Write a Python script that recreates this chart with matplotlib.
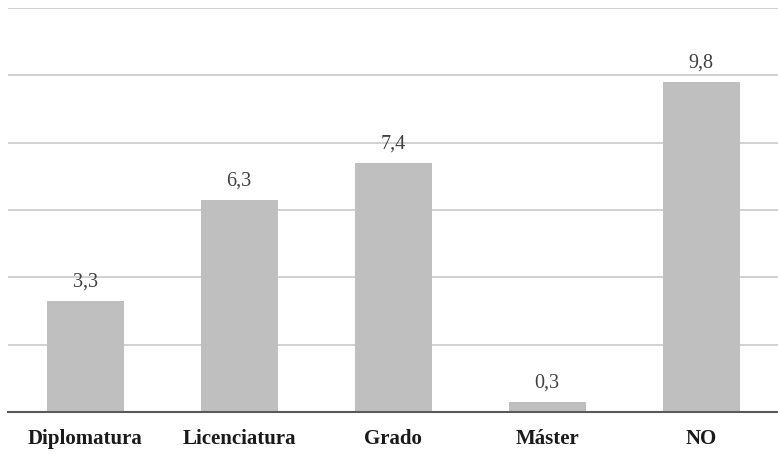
import matplotlib
matplotlib.use("Agg")
import matplotlib.pyplot as plt

categories = ["Diplomatura", "Licenciatura", "Grado", "Máster", "NO"]
values = [3.3, 6.3, 7.4, 0.3, 9.8]
value_labels = ["3,3", "6,3", "7,4", "0,3", "9,8"]

plt.rcParams['font.family'] = ['Liberation Serif', 'DejaVu Serif']

fig = plt.figure(figsize=(7.78, 4.55), dpi=100)
ax = fig.add_axes([8/778, 43/455, 770/778, (412-8)/455])

x = list(range(len(categories)))
ax.bar(x, values, width=0.5, color="#bfbfbf", zorder=2)
for xi, v, lab in zip(x, values, value_labels):
    ax.annotate(lab, (xi, v), xytext=(0, 7), textcoords="offset points",
                ha="center", va="bottom", fontsize=14.5, color="#404040")

ax.set_xlim(-0.5, 4.5)
ax.set_ylim(0, 12)
ax.set_yticks([0, 2, 4, 6, 8, 10, 12])
ax.yaxis.grid(True, color="#c8c8c8", linewidth=1.2, zorder=0)
ax.set_yticklabels([])
ax.tick_params(axis="y", length=0)
ax.tick_params(axis="x", length=0, pad=12)
ax.set_xticks(x)
ax.set_xticklabels(categories, fontsize=15, fontweight="bold", color="#1a1a1a")
for s in ["top", "right", "left"]:
    ax.spines[s].set_visible(False)
ax.spines["bottom"].set_color("#595959")
ax.spines["bottom"].set_linewidth(1.5)
ax.spines["bottom"].set_zorder(3)
ax.set_axisbelow(True)

fig.savefig("out.png", dpi=100)
